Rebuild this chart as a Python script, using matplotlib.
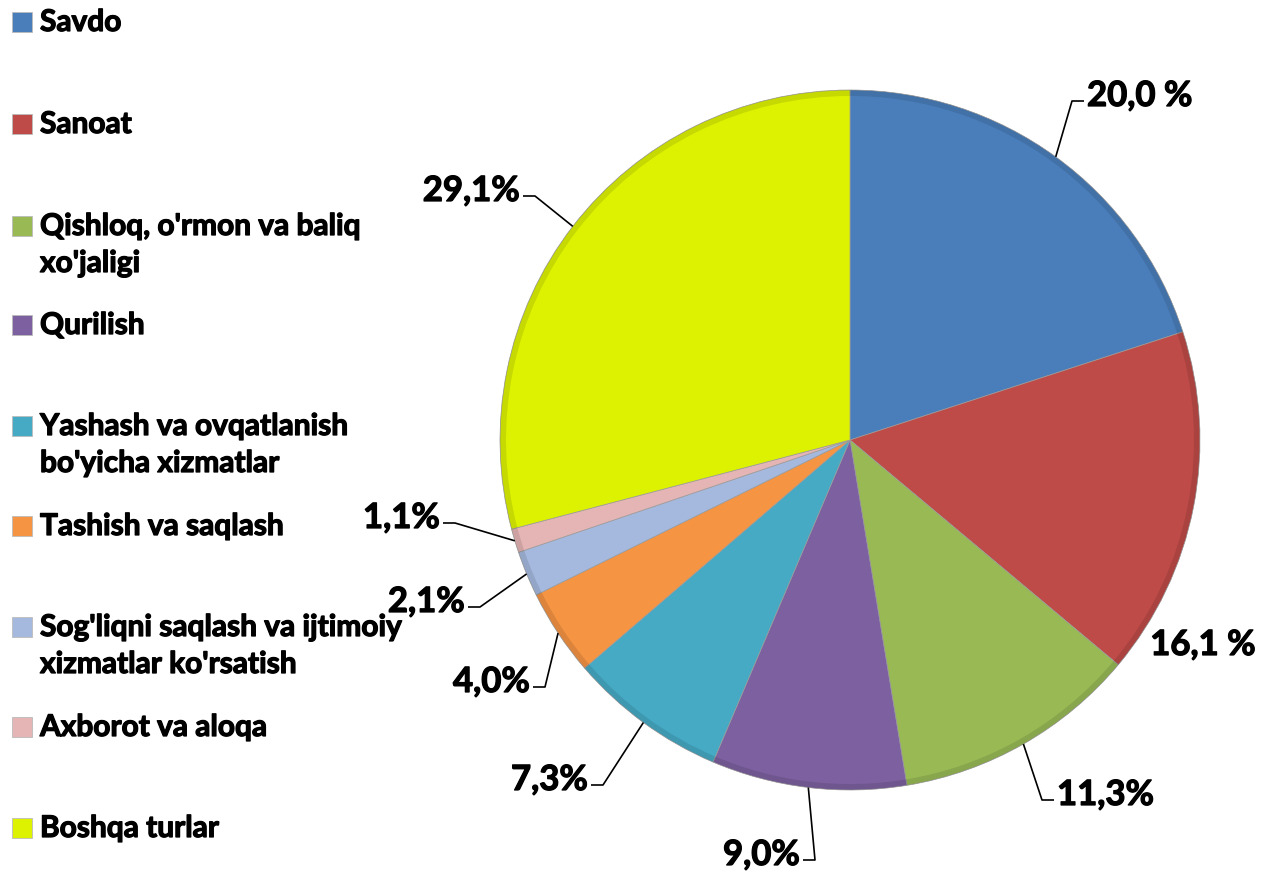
import matplotlib
matplotlib.use("Agg")
import matplotlib.pyplot as plt
import matplotlib.patheffects as pe
import numpy as np
from matplotlib.patches import Rectangle, Wedge

categories = ["Savdo", "Sanoat", "Qishloq, o'rmon va baliq\nxo'jaligi", "Qurilish",
              "Yashash va ovqatlanish\nbo'yicha xizmatlar", "Tashish va saqlash",
              "Sog'liqni saqlash va ijtimoiy\nxizmatlar ko'rsatish", "Axborot va aloqa",
              "Boshqa turlar"]
values = [20.0, 16.1, 11.3, 9.0, 7.3, 4.0, 2.1, 1.1, 29.1]
labels = ["20,0 %", "16,1 %", "11,3%", "9,0%", "7,3%", "4,0%", "2,1%", "1,1%", "29,1%"]
colors = ["#4A7EBB", "#BE4B48", "#98B954", "#7D60A0", "#46AAC5", "#F59443",
          "#A5B9DE", "#E5B4B4", "#DDF200"]

W, H = 1267, 880
fig = plt.figure(figsize=(W / 100, H / 100), dpi=100)
ax = fig.add_axes([0, 0, 1, 1])

FONT = "Lato"
WEIGHT = "bold"
thick = [pe.withStroke(linewidth=0.9, foreground="black")]
cx, cy, R = 850, 880 - 440, 350

wedges, _ = ax.pie(values, colors=colors, startangle=90, counterclock=False,
                   center=(cx, cy), radius=R, frame=True,
                   wedgeprops=dict(edgecolor="#9a9a9a", linewidth=0.5))
ax.set_xlim(0, W)
ax.set_ylim(0, H)
ax.set_aspect("equal")
ax.axis("off")

# subtle bevel-like shading at the rim
for w in wedges:
    ax.add_patch(Wedge((cx, cy), R, w.theta1, w.theta2, width=6, facecolor="black",
                       alpha=0.10, edgecolor="none"))

# label layout: elbow point (pixels from top-left), horizontal tail direction
elbows = [(1072, 101, 1), None, (1042, 800, 1), (815, 860, -1), (603, 785, -1),
          (545, 687, -1), (480, 607, -1), (455, 523, -1), (535, 196, -1)]
free_pos = {1: (1203, 645)}

for i, (w, lab) in enumerate(zip(wedges, labels)):
    mid = np.deg2rad((w.theta1 + w.theta2) / 2)
    rx, ry = cx + R * np.cos(mid), cy + R * np.sin(mid)
    e = elbows[i]
    if e is None:
        px, py = free_pos[i]
        ax.text(px, H - py, lab, ha="center", va="center", fontsize=25,
                fontweight=WEIGHT, family=FONT, path_effects=thick)
        continue
    ex, ey, d = e
    ey = H - ey
    tx = ex + d * 12
    ax.plot([rx, ex, tx], [ry, ey, ey], color="black", lw=1.2, solid_capstyle="butt")
    ax.text(tx + d * 3, ey + 5, lab, ha="left" if d > 0 else "right", va="center",
            fontsize=25, fontweight=WEIGHT, family=FONT, path_effects=thick)

# legend
leg_y = [22, 124, 226, 325, 426, 526, 627, 727, 828]
for c, name, ly in zip(colors, categories, leg_y):
    ax.add_patch(Rectangle((12, H - ly - 10), 20, 20, facecolor=c, edgecolor="#bbbbbb",
                           linewidth=0.6))
    for k, ln in enumerate(name.split("\n")):
        ax.text(40, H - ly - k * 37, ln, ha="left", va="center", fontsize=21.5,
                fontweight=WEIGHT, family=FONT, path_effects=thick)

fig.savefig("out.png", dpi=100, facecolor="white")
